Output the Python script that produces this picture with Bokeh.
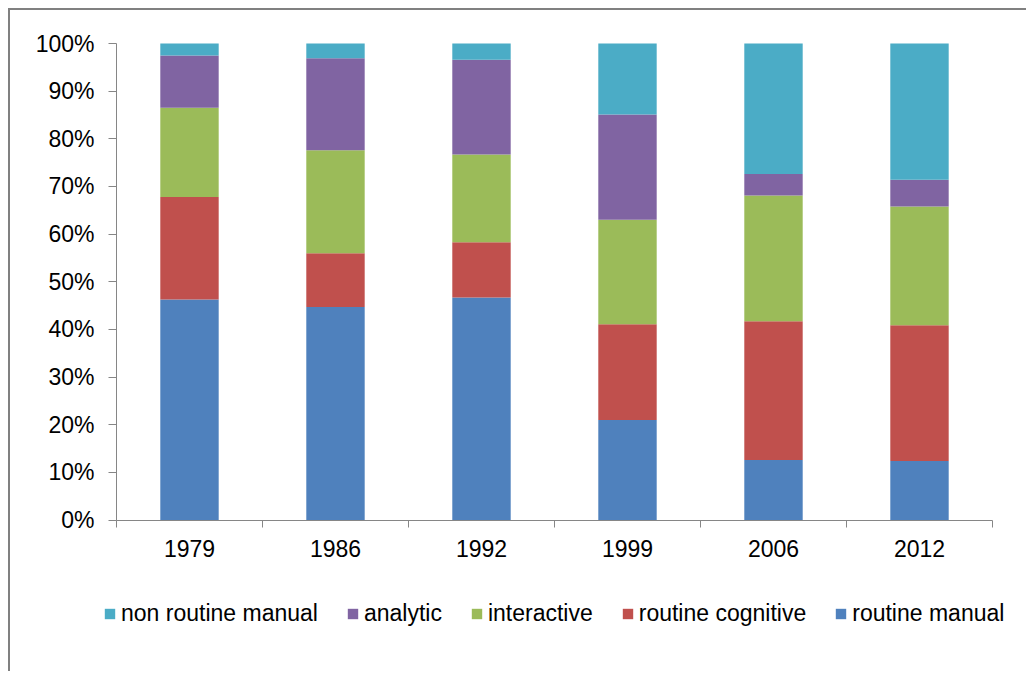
from bokeh.plotting import figure
from bokeh.models import (ColumnDataSource, FixedTicker, Legend, LegendItem,
                          PrintfTickFormatter, Range1d)
from bokeh.embed import file_html
from bokeh.resources import INLINE

years = ["1979", "1986", "1992", "1999", "2006", "2012"]
routine_manual = [46.3, 44.7, 46.7, 21.0, 12.6, 12.4]
routine_cognitive = [21.5, 11.3, 11.6, 20.1, 29.1, 28.5]
interactive = [18.7, 21.6, 18.4, 21.9, 26.4, 24.9]
analytic = [11.0, 19.3, 19.9, 22.1, 4.5, 5.6]
non_routine_manual = [2.5, 3.1, 3.4, 14.9, 27.4, 28.6]
y_ticks = [0, 10, 20, 30, 40, 50, 60, 70, 80, 90, 100]

series = ["routine manual", "routine cognitive", "interactive", "analytic", "non routine manual"]
colors = ["#4F81BD", "#C0504D", "#9BBB59", "#8064A2", "#4BACC6"]

xpos = [i + 0.5 for i in range(len(years))]
source = ColumnDataSource(data={
    "x": xpos,
    "routine manual": routine_manual,
    "routine cognitive": routine_cognitive,
    "interactive": interactive,
    "analytic": analytic,
    "non routine manual": non_routine_manual,
})

FONT = "Liberation Sans"
FS = "23px"

# frame covers the whole chart area so axis labels and legend sit inside it
p = figure(frame_width=992, frame_height=651, output_backend="svg",
           toolbar_location=None,
           x_range=Range1d(-0.589, 6.2055), y_range=Range1d(-31.79, 104.83),
           min_border_left=20, min_border_right=4, min_border_top=10,
           min_border_bottom=0)
p.styles = {"border-left": "2px solid #808080", "border-top": "2px solid #808080",
            "margin-left": "8px", "margin-top": "8px"}
p.outline_line_color = None
p.xgrid.visible = False
p.ygrid.visible = False

renderers = p.vbar_stack(series, x="x", width=0.4, source=source, color=colors,
                         line_color=None)

# y axis
ya = p.yaxis[0]
ya.fixed_location = 0
ya.bounds = (0, 100)
ya.ticker = FixedTicker(ticks=y_ticks)
ya.formatter = PrintfTickFormatter(format="%d%%")
ya.axis_line_color = "#868686"
ya.major_tick_line_color = "#868686"
ya.major_tick_out = 8
ya.major_tick_in = 0
ya.minor_tick_line_color = None
ya.major_label_text_font = FONT
ya.major_label_text_font_size = FS
ya.major_label_text_color = "black"
ya.major_label_standoff = 14

# x axis: labels at centers, ticks at category boundaries
xa = p.xaxis[0]
xa.fixed_location = 0
xa.bounds = (0, len(years))
xa.ticker = FixedTicker(ticks=xpos, minor_ticks=list(range(len(years) + 1)))
xa.major_label_overrides = {x: y for x, y in zip(xpos, years)}
xa.axis_line_color = "#868686"
xa.major_tick_line_color = None
xa.major_tick_out = 0
xa.major_tick_in = 0
xa.minor_tick_line_color = "#868686"
xa.minor_tick_out = 7
xa.minor_tick_in = 0
xa.major_label_text_font = FONT
xa.major_label_text_font_size = FS
xa.major_label_text_color = "black"
xa.major_label_standoff = 13

items = [LegendItem(label=name, renderers=[r]) for name, r in zip(series, renderers)]
items = items[::-1]
legend = Legend(items=items, orientation="horizontal", location=(73, 44),
                label_text_font=FONT, label_text_font_size=FS,
                label_text_color="black", glyph_width=13, glyph_height=13,
                label_standoff=5, spacing=28, padding=0, margin=0,
                border_line_color=None, background_fill_alpha=0)
p.add_layout(legend, "center")

open("out.html", "w").write(file_html(p, INLINE))
